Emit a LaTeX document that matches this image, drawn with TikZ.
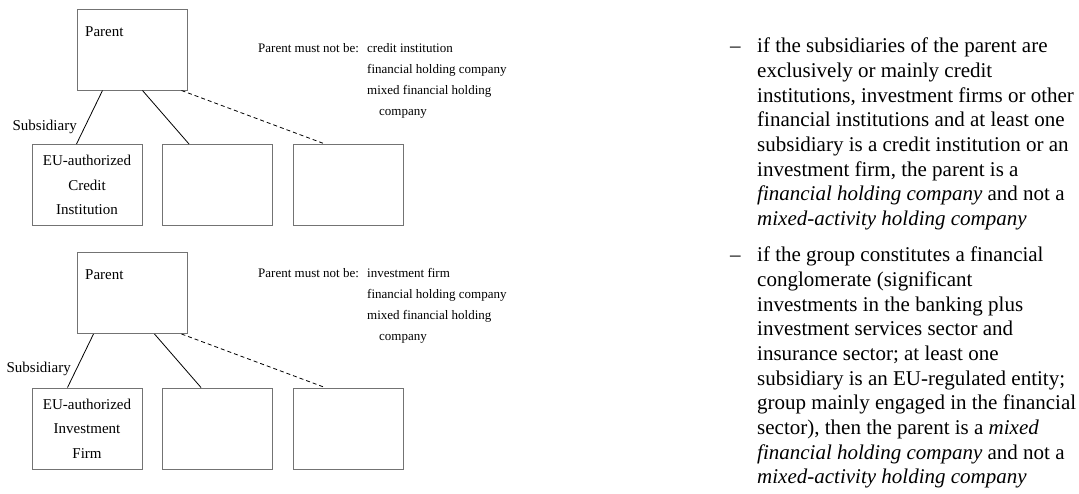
\documentclass[tikz,border=0pt]{standalone}
\usepackage{fontspec}
\setmainfont{Liberation Serif}
\usepackage{tikz}
\usetikzlibrary{positioning,calc}

\tikzset{
  entity/.style={draw=black!55,line width=1pt,minimum width=110pt,minimum height=81pt,inner sep=0pt},
  boxtext/.style={font=\fontsize{15}{24.5}\selectfont,align=center,inner sep=0pt},
  listtext/.style={font=\fontsize{13}{21}\selectfont,align=left,inner sep=0pt},
  ruletext/.style={font=\fontsize{21}{24.7}\selectfont,align=left,inner sep=0pt},
  link/.style={line width=0.8pt},
  maybelink/.style={line width=0.8pt,dash pattern=on 4pt off 3pt}
}

\begin{document}
\begin{tikzpicture}[x=1pt,y=-1pt]
\useasboundingbox (0,0) rectangle (1079,493);

% credit institution group
\node[entity] (parA) at (132,49.5) {};
\node[boxtext,anchor=base west] (parAtxt) at (85,36) {Parent};
\node[entity] (subA1) at (87,185) {};
\node[entity] (subA2) at (217.5,185) {};
\node[entity] (subA3) at (348.5,185) {};
\node[boxtext] (subA1txt) at (subA1.center) {EU-authorized\\Credit\\Institution};
\node[boxtext,anchor=base east] (subAlbl) at (77,130) {Subsidiary};

\draw[link] ([xshift=26pt]parA.south west) -- ([xshift=45pt]subA1.north west);
\draw[link] ([xshift=66pt]parA.south west) -- ([xshift=27pt]subA2.north west);
\draw[maybelink] ([xshift=105pt]parA.south west) -- ([xshift=32pt]subA3.north west);

\node[listtext,anchor=base west] (notAhead) at (258,52) {Parent must not be:};
\node[listtext,anchor=north west] (notAlist) at (367,43) {credit institution\\financial holding company\\mixed financial holding\\\hspace{12pt}company};

% investment firm group
\node[entity] (parB) at (132,293) {};
\node[boxtext,anchor=base west] (parBtxt) at (85,279) {Parent};
\node[entity] (subB1) at (87,428.5) {};
\node[entity] (subB2) at (217.5,428.5) {};
\node[entity] (subB3) at (348.5,428.5) {};
\node[boxtext] (subB1txt) at (subB1.center) {EU-authorized\\Investment\\Firm};
\node[boxtext,anchor=base east] (subBlbl) at (71,372) {Subsidiary};

\draw[link] ([xshift=17pt]parB.south west) -- ([xshift=36pt]subB1.north west);
\draw[link] ([xshift=78pt]parB.south west) -- ([xshift=39pt]subB2.north west);
\draw[maybelink] ([xshift=105pt]parB.south west) -- ([xshift=32pt]subB3.north west);

\node[listtext,anchor=base west] (notBhead) at (258,277) {Parent must not be:};
\node[listtext,anchor=north west] (notBlist) at (367,268) {investment firm\\financial holding company\\mixed financial holding\\\hspace{12pt}company};

% rules on the right
\node[ruletext,anchor=base west] (dashA) at (730,52) {--};
\node[ruletext,anchor=north west] (ruleA) at (757,37.7) {if the subsidiaries of the parent are\\exclusively or mainly credit\\institutions, investment firms or other\\financial institutions and at least one\\subsidiary is a credit institution or an\\investment firm, the parent is a\\\textit{financial holding company} and not a\\\textit{mixed-activity holding company}};
\node[ruletext,anchor=base west] (dashB) at (730,261) {--};
\node[ruletext,anchor=north west] (ruleB) at (757,246.7) {if the group constitutes a financial\\conglomerate (significant\\investments in the banking plus\\investment services sector and\\insurance sector; at least one\\subsidiary is an EU-regulated entity;\\group mainly engaged in the financial\\sector), then the parent is a \textit{mixed}\\\textit{financial holding company} and not a\\\textit{mixed-activity holding company}};

\end{tikzpicture}
\end{document}
